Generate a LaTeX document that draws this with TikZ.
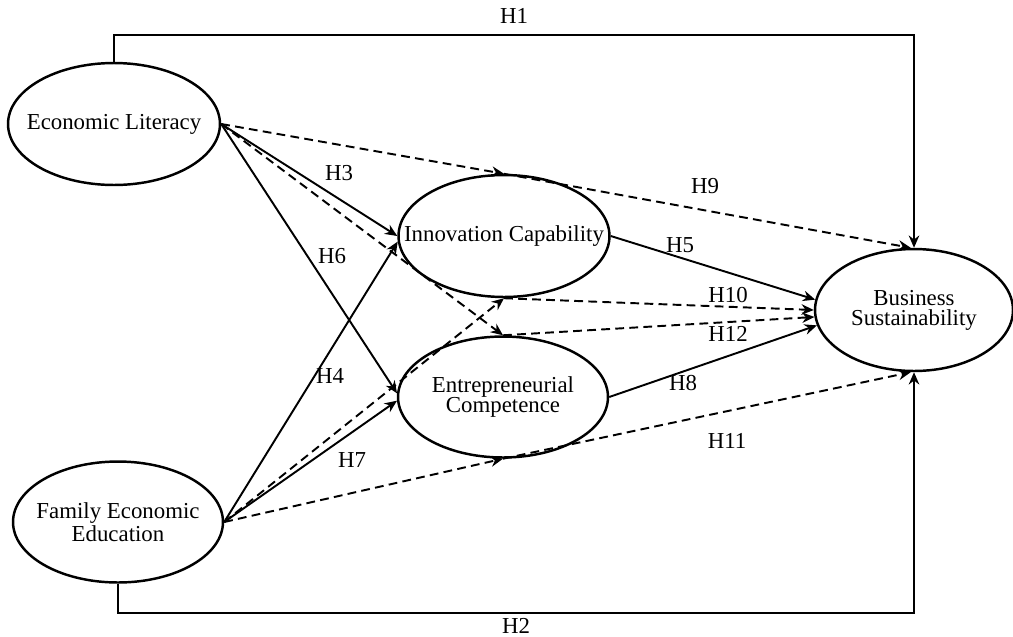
\documentclass[tikz,border=0pt]{standalone}
\usepackage{fontspec}
\setmainfont{Liberation Serif}
\usetikzlibrary{arrows.meta, positioning, shapes.geometric, calc}

\tikzset{
  latent/.style={ellipse, draw, line width=1.4pt, inner sep=0pt},
  caption/.style={align=center, inner sep=0pt, font=\fontsize{13}{11.5}\selectfont},
  hyp/.style={inner sep=0pt, font=\fontsize{13}{15}\selectfont},
  direct/.style={-{Stealth[length=7pt,width=6pt]}, line width=1.1pt},
  indirect/.style={direct, dash pattern=on 5pt off 3pt},
}

\begin{document}
\begin{tikzpicture}[x=0.02cm, y=-0.02cm]
  % frame in pixel units of the 1013x636 figure
  \useasboundingbox (0,0) rectangle (1013,636);
  % constructs
  \node[latent, minimum width=4.24cm, minimum height=2.44cm, label={[caption]center:Economic Literacy}] (EL) at (114,124) {};
  \node[latent, minimum width=4.20cm, minimum height=2.42cm, label={[caption]center:Family Economic\\Education}] (FEE) at (118,522) {};
  \node[latent, minimum width=4.22cm, minimum height=2.44cm, label={[caption]center:Innovation Capability}] (IC) at (504,236) {};
  \node[latent, minimum width=4.20cm, minimum height=2.42cm, label={[caption]center:Entrepreneurial\\Competence}] (EC) at (503,397) {};
  \node[latent, minimum width=3.96cm, minimum height=2.44cm, label={[caption]center:Business\\Sustainability}] (BS) at (914,310) {};
  % direct effects on sustainability
  \draw[direct] (EL.north) -- ++(0,-27) -| node[hyp, pos=0.25, above=5.7pt] (h1) {H1} (BS.north);
  \draw[direct] (FEE.south) -- ++(0,29) -| node[hyp, pos=0.25, below=2.5pt] (h2) {H2} (BS.south);
  % paths to the mediators
  \draw[direct] (EL.east) -- (IC.180);
  \draw[direct] (FEE.east) -- (IC.183);
  \draw[direct] (EL.east) -- (EC.178);
  \draw[direct] (FEE.east) -- (EC.182);
  \draw[direct] (IC.east) -- (BS.174);
  \draw[direct] (EC.east) -- (BS.189);
  % mediated paths
  \draw[indirect] (EL.east) -- (IC.north);
  \draw[indirect] (IC.north) -- (BS.93);
  \draw[indirect] (FEE.east) -- (IC.south);
  \draw[indirect] (IC.south) -- (BS.180);
  \draw[indirect] (EL.east) -- (EC.north);
  \draw[indirect] (EC.north) -- (BS.184);
  \draw[indirect] (FEE.east) -- (EC.south);
  \draw[indirect] (EC.south) -- (BS.267);
  % hypothesis labels
  \node[hyp] (h3) at (339,173) {H3};
  \node[hyp] (h6) at (332,256) {H6};
  \node[hyp] (h4) at (330,376) {H4};
  \node[hyp] (h7) at (352,460) {H7};
  \node[hyp] (h9) at (705,186) {H9};
  \node[hyp] (h5) at (680,245) {H5};
  \node[hyp] (h10) at (728,295) {H10};
  \node[hyp] (h12) at (728,334) {H12};
  \node[hyp] (h8) at (683,383) {H8};
  \node[hyp] (h11) at (727,441) {H11};
\end{tikzpicture}
\end{document}
